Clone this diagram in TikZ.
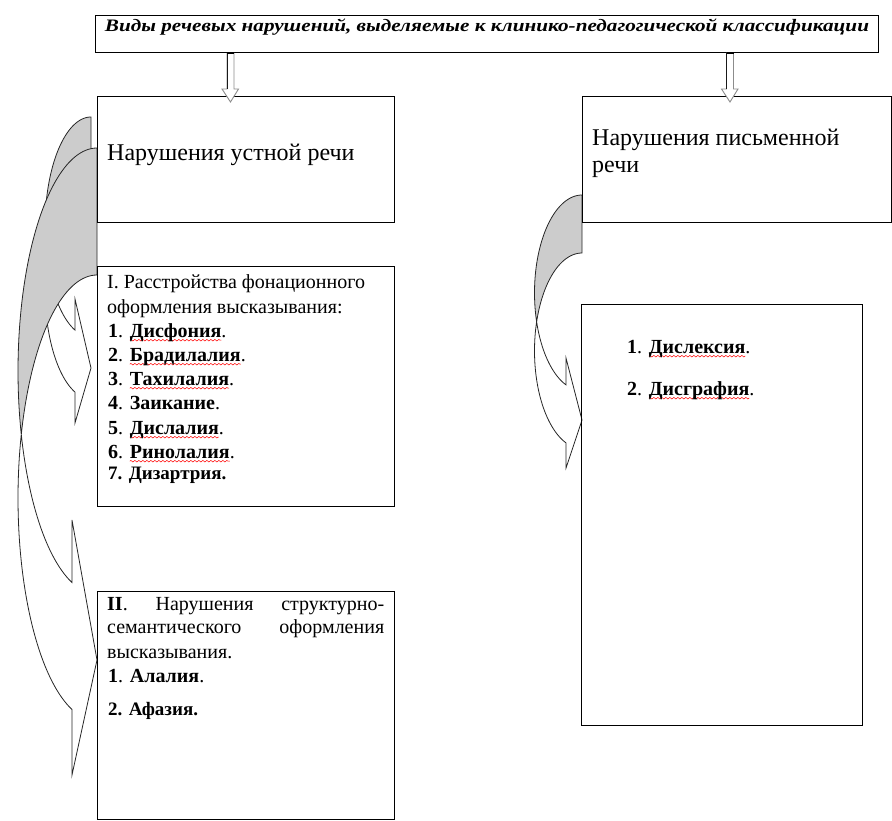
\documentclass[tikz,border=0pt]{standalone}
\usepackage{fontspec}
\setmainfont{Liberation Serif}
\usepackage{graphicx}
\usetikzlibrary{calc,decorations.pathmorphing}
\definecolor{lensgray}{RGB}{204,204,204}
\newsavebox\sqbox
\newlength\sqlen
\newcommand\sq[1]{\sbox\sqbox{#1}\setlength\sqlen{\wd\sqbox}%
  \rlap{\tikz[x=1pt,y=1pt,baseline=0pt,overlay]\draw[red,line width=0.5pt]
    decorate[decoration={zigzag,segment length=4pt,amplitude=0.8pt}]{(0,-3.2)--(\sqlen,-3.2)};}%
  \usebox\sqbox}
% curved arrow: r, top, th, hR, w, x1, headtop, headbot, tipy
\newcommand\curvedarr[9]{%
  \pgfmathsetmacro\cyA{#2+#4}%
  \pgfmathsetmacro\cyB{#2+#3+#4}%
  \pgfmathsetmacro\tEnd{180-asin((#1-#6)/#5)}%
  \pgfmathsetmacro\tI{acos(-#3/(2*#4))}%
  \pgfmathsetmacro\tJ{acos(#3/(2*#4))}%
  \fill[white] plot[domain=\tI:\tEnd,samples=40] ({#1-#5*sin(\x)},{\cyA-#4*cos(\x)})
     -- (#6,#7) -- (#1,#9) -- (#6,#8)
     -- plot[domain=\tEnd:\tJ,samples=50] ({#1-#5*sin(\x)},{\cyB-#4*cos(\x)}) -- cycle;
  \fill[lensgray] plot[domain=0:\tI,samples=50] ({#1-#5*sin(\x)},{\cyA-#4*cos(\x)})
     -- plot[domain=\tJ:0,samples=40] ({#1-#5*sin(\x)},{\cyB-#4*cos(\x)}) -- cycle;
  \draw[arrline] (#1,#2) -- plot[domain=0:\tEnd,samples=80] ({#1-#5*sin(\x)},{\cyA-#4*cos(\x)})
     -- (#6,#7) -- (#1,#9) -- (#6,#8)
     -- plot[domain=\tEnd:0,samples=80] ({#1-#5*sin(\x)},{\cyB-#4*cos(\x)}) -- cycle;
}
\begin{document}
\begin{tikzpicture}[x=1pt,y=-1pt,
  box/.style={draw,line width=1pt,anchor=north west,inner sep=0pt},
  ln/.style={anchor=base west,inner sep=0pt,font=\fontsize{20}{24}\selectfont},
  big/.style={anchor=base west,inner sep=0pt,font=\fontsize{24}{27}\selectfont},
  arrline/.style={draw=black!85,line width=0.8pt,line join=miter},
  blk/.style={fill=white,draw=black!45,line width=0.9pt}]
\useasboundingbox (0,0) rectangle (892,821);

% curved arrows (drawn first)
\curvedarr{91}{117}{62}{110}{46}{75}{299}{423}{368}
\curvedarr{97}{148}{127}{223}{79}{72}{520}{775}{660}
\curvedarr{582}{195}{58}{97.8}{47.5}{566}{358}{468}{420}

% boxes
\node[box,minimum width=783pt,minimum height=37pt] (title) at (95,15) {};
\node[box,minimum width=297pt,minimum height=126pt] (oral) at (97,96) {};
\node[box,minimum width=297pt,minimum height=240pt] (grpI) at (97,266) {};
\node[box,minimum width=297pt,minimum height=228pt] (grpII) at (97,591) {};
\node[box,minimum width=309pt,minimum height=126pt] (written) at (582,96) {};
\node[box,minimum width=281pt,minimum height=421pt] (wlist) at (581,304) {};

% title text
\node[anchor=base,inner sep=0pt] (ttext) at (487,31.5)
  {\resizebox{764pt}{\height}{\fontsize{17.5}{17.5}\selectfont\bfseries\itshape Виды речевых нарушений, выделяемые к клинико-педагогической классификации}};

% block arrows from title
\coordinate (la) at (230.5,53);
\coordinate (ra) at (730,53);
\draw[blk] ($(la)+(-3.5,0)$) -- ($(la)+(-3.5,36)$) -- ($(la)+(-8.5,36)$) -- ($(la)+(0,49)$)
  -- ($(la)+(8,36)$) -- ($(la)+(3.5,36)$) -- ($(la)+(3.5,0)$);
\draw[black!90,line width=0.9pt] ($(la)+(-3.5,0)$) -- ($(la)+(-3.5,36)$);
\draw[black,line width=2pt] ($(la)+(-3.5,0)$) -- ($(la)+(3.5,0)$);
\draw[blk] ($(ra)+(-3.5,0)$) -- ($(ra)+(-3.5,36)$) -- ($(ra)+(-8.5,36)$) -- ($(ra)+(0,49)$)
  -- ($(ra)+(8,36)$) -- ($(ra)+(3.5,36)$) -- ($(ra)+(3.5,0)$);
\draw[black!90,line width=0.9pt] ($(ra)+(-3.5,0)$) -- ($(ra)+(-3.5,36)$);
\draw[black,line width=2pt] ($(ra)+(-3.5,0)$) -- ($(ra)+(3.5,0)$);

% oral / written headers
\node[big] (oralt) at (107,161) {Нарушения устной речи};
\node[big] (writt1) at (592,146) {Нарушения письменной};
\node[big] (writt2) at (592,173) {речи};

% group I
\node[ln] (i1) at (107,288) {I. Расстройства фонационного};
\node[ln] (i2) at (107,313) {оформления высказывания:};
\node[ln] (i3) at (108,337) {\textbf{1}. \textbf{\sq{Дисфония}}.};
\node[ln] (i4) at (108,361) {\textbf{2}. \textbf{\sq{Брадилалия}}.};
\node[ln] (i5) at (108,385) {\textbf{3}. \textbf{\sq{Тахилалия}}.};
\node[ln] (i6) at (108,409) {\textbf{4}. \textbf{Заикание}.};
\node[ln] (i7) at (108,434) {\textbf{5}. \textbf{\sq{Дислалия}}.};
\node[ln] (i8) at (108,458) {\textbf{6}. \textbf{\sq{Ринолалия}}.};
\node[ln,font=\fontsize{19}{23}\selectfont] (i9) at (108,479) {\textbf{7. Дизартрия.}};

% group II
\node[ln] (ii1) at (107,610) {\hbox to 277pt{\textbf{II}.\hfill Нарушения\hfill структурно-}};
\node[ln] (ii2) at (107,633) {\hbox to 277pt{семантического\hfill оформления}};
\node[ln] (ii3) at (107,658) {высказывания.};
\node[ln] (ii4) at (108,682) {\textbf{1}. \textbf{Алалия}.};
\node[ln,font=\fontsize{19}{23}\selectfont] (ii5) at (108,715) {\textbf{2. Афазия.}};

% written list
\node[ln] (w1) at (627,353) {\textbf{1}. \textbf{\sq{Дислексия}}.};
\node[ln] (w2) at (627,395) {\textbf{2}. \textbf{\sq{Дисграфия}}.};
\end{tikzpicture}
\end{document}
